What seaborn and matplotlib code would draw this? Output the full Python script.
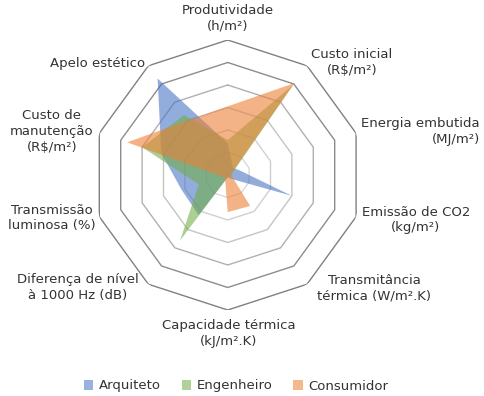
import numpy as np
import seaborn as sns
import matplotlib.pyplot as plt
from matplotlib.patches import Patch

# axes clockwise from the top
categorias = [
    "Produtividade\n(h/m²)",
    "Custo inicial\n(R$/m²)",
    "Energia embutida\n(MJ/m²)",
    "Emissão de CO2\n(kg/m²)",
    "Transmitância\ntérmica (W/m².K)",
    "Capacidade térmica\n(kJ/m².K)",
    "Diferença de nível\nà 1000 Hz (dB)",
    "Transmissão\nluminosa (%)",
    "Custo de\nmanutenção\n(R$/m²)",
    "Apelo estético",
]
arquiteto = [1.4, 0.4, 0.6, 3.0, 0.2, 0.1, 2.2, 2.15, 3.1, 5.3]
engenheiro = [1.55, 4.95, 0.2, 0.15, 0.1, 0.1, 3.6, 1.35, 4.0, 3.3]
consumidor = [3.05, 5.05, 0.15, 0.2, 1.7, 1.65, 0.2, 0.25, 4.7, 3.0]
series = ["Arquiteto", "Engenheiro", "Consumidor"]

sns.set_style("white")
plt.rcParams["font.family"] = ["DejaVu Sans"]
cores = ["#4472C4", "#70AD47", "#ED7D31"]

W, H = 485, 396
fig = plt.figure(figsize=(W / 100, H / 100), dpi=100)
cx, cy, R = 227.7, 175, 135
ax = fig.add_axes([(cx - R) / W, 1 - (cy + R) / H, 2 * R / W, 2 * R / H], projection="polar")
ax.set_theta_zero_location("N")
ax.set_theta_direction(-1)
ax.set_ylim(0, 6)
ax.grid(False)
ax.set_xticks([])
ax.set_yticks([])
ax.spines["polar"].set_visible(False)

n = len(categorias)
ang = np.linspace(0, 2 * np.pi, n, endpoint=False)
ang_c = np.append(ang, ang[0])

# decagon rings
ring_cols = ["#d9d9d9", "#d0d0d0", "#c4c4c4", "#b0b0b0", "#8c8c8c", "#808080"]
for r, c in zip(range(1, 7), ring_cols):
    ax.plot(ang_c, [r] * (n + 1), color=c, lw=1.0, zorder=1)

for nome, vals, cor in zip(series, [arquiteto, engenheiro, consumidor], cores):
    v = np.append(vals, vals[0])
    ax.fill(ang_c, v, color=cor, alpha=0.58, lw=0, zorder=2)

# labels
pos = [(228, 18, "center"), (352, 62, "center"), (480, 132, "right"),
       (416, 220, "center"), (374, 288, "center"), (229, 333, "center"),
       (78, 288, "center"), (52, 218, "center"), (52, 131, "center"),
       (98, 63, "center")]
for txt, (x, y, ha) in zip(categorias, pos):
    fig.text(x / W, 1 - y / H, txt, ha=ha, va="center", multialignment=ha,
             fontsize=9.5, color="#333333", linespacing=1.3)

handles = [Patch(facecolor=c, alpha=0.55, lw=0) for c in cores]
fig.legend(handles, series, loc="center", bbox_to_anchor=(236 / W, 1 - 386 / H),
           ncol=3, frameon=False, fontsize=9.5, handlelength=0.7, handleheight=0.7,
           handletextpad=0.4, columnspacing=1.6, labelcolor="#333333")

fig.savefig("out.png", dpi=100)
